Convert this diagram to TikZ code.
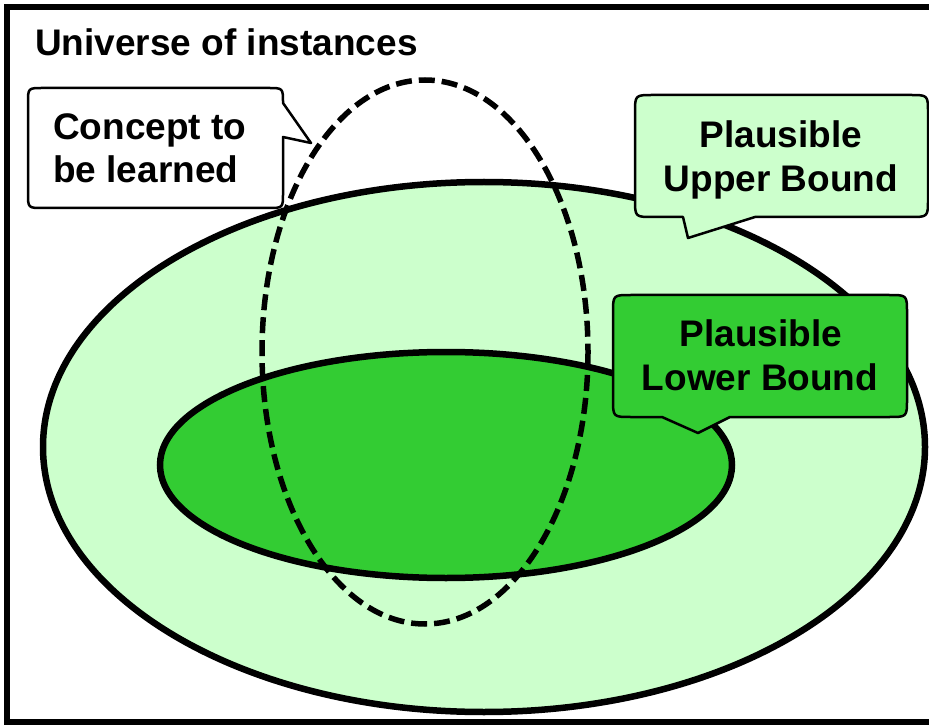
\documentclass[tikz,border=0pt]{standalone}
\usepackage{fontspec}
\setmainfont{Liberation Sans}
\definecolor{lightg}{HTML}{CCFFCC}
\definecolor{darkg}{HTML}{33CC33}
\begin{document}
\begin{tikzpicture}[x=1pt,y=-1pt,
  lbl/.style={inner sep=0pt,font=\fontsize{37}{44}\selectfont\bfseries},
  bub/.style={draw=black,line width=2.5pt,line join=round},
  setline/.style={draw=black,line width=6.5pt}]
\useasboundingbox (0,0) rectangle (929,727);
% frame
\draw[line width=6.5pt] (7,7) rectangle (945,722);
\node[lbl,anchor=base west] (univ) at (35,56) {Universe of instances};
% sets
\draw[setline,fill=lightg] (484,447) ellipse[x radius=441,y radius=265];
\draw[setline,fill=darkg] (446,465) ellipse[x radius=286,y radius=113];
\draw[line width=5.5pt,dash pattern=on 16pt off 7pt] (425,352) ellipse[x radius=163,y radius=272];
% concept callout
\draw[bub,fill=white] (43,88) -- (268,88) .. controls (283,88) .. (283,103) -- (311,143) -- (283,137) -- (283,193) .. controls (283,208) .. (268,208) -- (43,208) .. controls (28,208) .. (28,193) -- (28,103) .. controls (28,88) .. (43,88) -- cycle;
\node[lbl,anchor=base west] (c1) at (53,140) {Concept to};
\node[lbl,anchor=base west] (c2) at (53,183) {be learned};
% upper bound callout
\draw[bub,fill=lightg] (653,95) -- (910,95) .. controls (928,95) .. (928,113) -- (928,199) .. controls (928,217) .. (910,217) -- (755,217) -- (688,238) -- (683,217) -- (653,217) .. controls (635,217) .. (635,199) -- (635,113) .. controls (635,95) .. (653,95) -- cycle;
\node[lbl,anchor=base] (u1) at (781,148) {Plausible};
\node[lbl,anchor=base] (u2) at (781,192) {Upper Bound};
% lower bound callout
\draw[bub,fill=darkg] (631,295) -- (889,295) .. controls (907,295) .. (907,313) -- (907,399) .. controls (907,417) .. (889,417) -- (730,417) -- (698,433) -- (662,417) -- (631,417) .. controls (613,417) .. (613,399) -- (613,313) .. controls (613,295) .. (631,295) -- cycle;
\node[lbl,anchor=base] (l1) at (761,346) {Plausible};
\node[lbl,anchor=base] (l2) at (760,390) {Lower Bound};
\end{tikzpicture}
\end{document}
